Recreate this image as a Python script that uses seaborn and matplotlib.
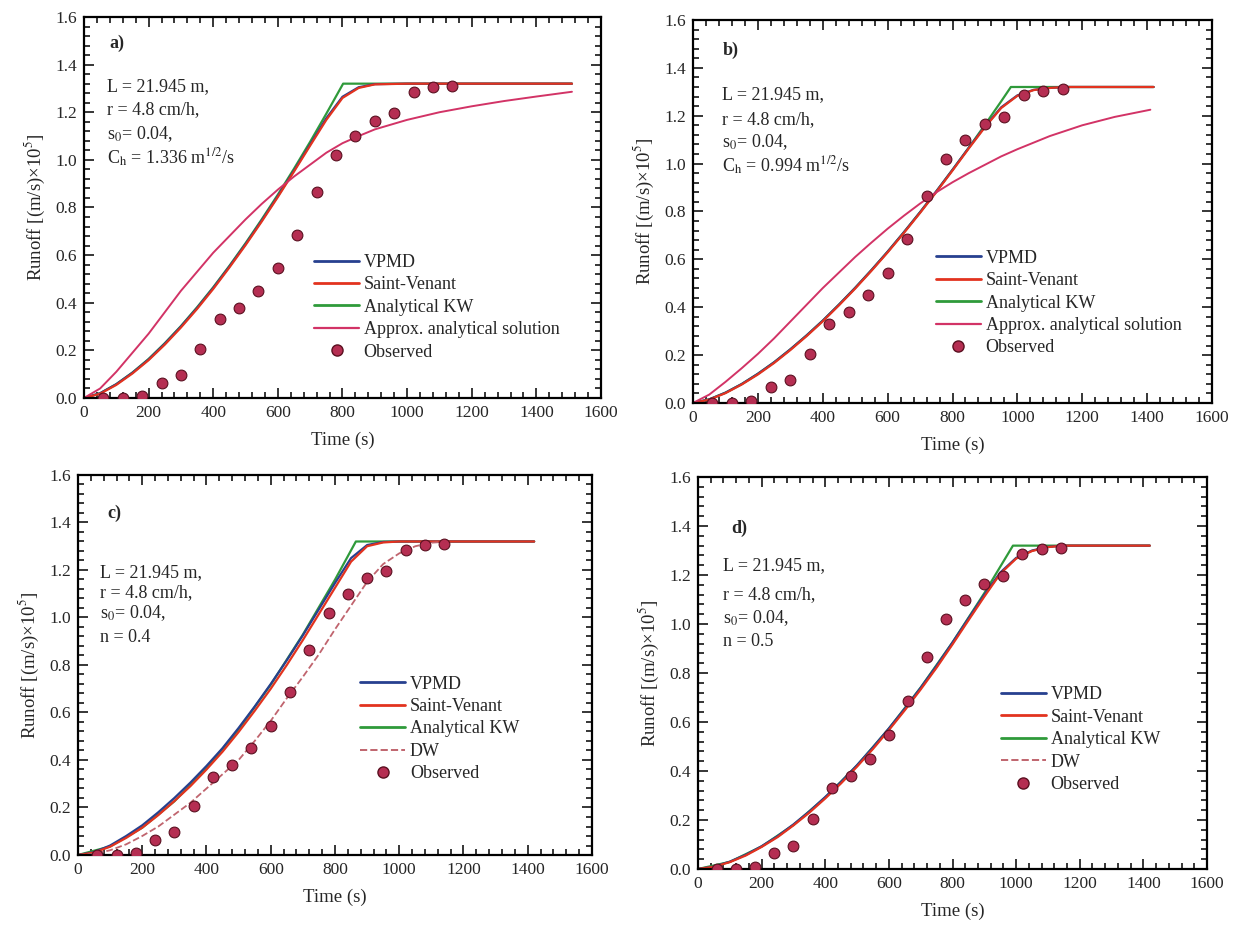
import numpy as np
import pandas as pd
import matplotlib
matplotlib.use("Agg")
import matplotlib.pyplot as plt
import seaborn as sns
from matplotlib.ticker import MultipleLocator
from matplotlib.lines import Line2D

# ---------------- data ----------------
OBS_T = [60, 120, 180, 240, 300, 360, 420, 480, 540, 600, 660, 720, 780, 840, 900, 960, 1020, 1080, 1140]
OBS_Q = [0.0, 0.0, 0.01, 0.065, 0.095, 0.205, 0.33, 0.38, 0.45, 0.545, 0.685, 0.865, 1.02, 1.10, 1.165, 1.195, 1.285, 1.305, 1.31]

# panel a
T_A = [0, 50, 100, 150, 200, 250, 300, 350, 400, 450, 500, 550, 600, 650, 700, 750, 800, 850, 900, 1000, 1200, 1510]
VPMD_A = [0, 0.02, 0.058, 0.106, 0.162, 0.228, 0.30, 0.378, 0.462, 0.552, 0.646, 0.745, 0.848, 0.955, 1.065, 1.175, 1.265, 1.305, 1.318, 1.32, 1.32, 1.32]
SV_A = [0, 0.018, 0.055, 0.103, 0.159, 0.224, 0.296, 0.374, 0.458, 0.548, 0.642, 0.741, 0.844, 0.951, 1.06, 1.168, 1.26, 1.302, 1.317, 1.32, 1.32, 1.32]
KW_TA = [0, 50, 100, 150, 200, 250, 300, 350, 400, 450, 500, 550, 600, 650, 700, 750, 802, 1510]
KW_A = [0, 0.02, 0.058, 0.107, 0.164, 0.230, 0.302, 0.381, 0.465, 0.555, 0.650, 0.750, 0.854, 0.963, 1.076, 1.194, 1.32, 1.32]
AP_TA = [0, 50, 100, 150, 200, 250, 300, 350, 400, 450, 500, 550, 600, 650, 700, 750, 800, 850, 900, 1000, 1100, 1200, 1300, 1400, 1510]
AP_A = [0, 0.04, 0.11, 0.19, 0.27, 0.36, 0.45, 0.53, 0.61, 0.68, 0.75, 0.815, 0.875, 0.93, 0.98, 1.03, 1.07, 1.10, 1.128, 1.168, 1.20, 1.225, 1.247, 1.266, 1.286]

# panel b
T_B = [0, 50, 100, 150, 200, 250, 300, 350, 400, 450, 500, 550, 600, 650, 700, 750, 800, 850, 900, 950, 1000, 1050, 1100, 1150, 1420]
VPMD_B = [0, 0.015, 0.043, 0.079, 0.122, 0.170, 0.224, 0.282, 0.344, 0.411, 0.481, 0.555, 0.632, 0.713, 0.797, 0.884, 0.974, 1.066, 1.155, 1.235, 1.285, 1.308, 1.316, 1.32, 1.32]
SV_B = [0, 0.014, 0.041, 0.077, 0.119, 0.167, 0.221, 0.279, 0.341, 0.408, 0.478, 0.552, 0.629, 0.71, 0.794, 0.881, 0.971, 1.063, 1.152, 1.232, 1.283, 1.307, 1.316, 1.32, 1.32]
KW_TB = [0, 50, 100, 150, 200, 250, 300, 350, 400, 450, 500, 550, 600, 650, 700, 750, 800, 850, 900, 950, 980, 1420]
KW_B = [0, 0.015, 0.043, 0.079, 0.122, 0.170, 0.224, 0.282, 0.344, 0.411, 0.481, 0.555, 0.632, 0.713, 0.797, 0.884, 0.974, 1.066, 1.162, 1.26, 1.32, 1.32]
AP_TB = [0, 50, 100, 150, 200, 250, 300, 350, 400, 450, 500, 550, 600, 650, 700, 750, 800, 850, 900, 950, 1000, 1100, 1200, 1300, 1410]
AP_B = [0, 0.035, 0.088, 0.145, 0.205, 0.27, 0.34, 0.41, 0.48, 0.545, 0.61, 0.67, 0.728, 0.782, 0.833, 0.88, 0.922, 0.96, 0.995, 1.03, 1.06, 1.115, 1.16, 1.195, 1.225]

# panel c
T_C = [0, 50, 100, 150, 200, 250, 300, 350, 400, 450, 500, 550, 600, 650, 700, 750, 800, 850, 900, 950, 1000, 1100, 1420]
VPMD_C = [0, 0.012, 0.04, 0.08, 0.125, 0.18, 0.24, 0.305, 0.375, 0.45, 0.535, 0.625, 0.72, 0.82, 0.925, 1.035, 1.145, 1.25, 1.305, 1.318, 1.32, 1.32, 1.32]
SV_C = [0, 0.01, 0.035, 0.072, 0.115, 0.168, 0.227, 0.29, 0.36, 0.435, 0.518, 0.607, 0.70, 0.80, 0.905, 1.015, 1.125, 1.235, 1.30, 1.316, 1.32, 1.32, 1.32]
KW_TC = [0, 100, 200, 300, 400, 500, 600, 700, 800, 865, 1420]
KW_C = [0, 0.036, 0.115, 0.226, 0.365, 0.529, 0.717, 0.928, 1.159, 1.32, 1.32]
DW_TC = [0, 50, 100, 150, 200, 250, 300, 350, 400, 450, 500, 550, 600, 650, 700, 750, 800, 850, 900, 950, 1000, 1050, 1100, 1160]
DW_C = [0, 0.005, 0.02, 0.045, 0.08, 0.12, 0.17, 0.22, 0.28, 0.34, 0.40, 0.48, 0.565, 0.66, 0.75, 0.845, 0.95, 1.05, 1.15, 1.225, 1.27, 1.30, 1.315, 1.32]

# panel d
T_D = [0, 50, 100, 150, 200, 250, 300, 350, 400, 450, 500, 550, 600, 650, 700, 750, 800, 850, 900, 950, 1000, 1050, 1100, 1150, 1420]
VPMD_D = [0, 0.01, 0.03, 0.058, 0.093, 0.134, 0.182, 0.235, 0.294, 0.356, 0.424, 0.497, 0.574, 0.655, 0.74, 0.83, 0.925, 1.023, 1.12, 1.21, 1.27, 1.30, 1.315, 1.32, 1.32]
SV_D = [0, 0.009, 0.028, 0.055, 0.09, 0.13, 0.178, 0.23, 0.288, 0.35, 0.418, 0.49, 0.567, 0.648, 0.733, 0.822, 0.917, 1.015, 1.112, 1.205, 1.267, 1.298, 1.314, 1.32, 1.32]
KW_TD = [0, 100, 200, 300, 400, 500, 600, 700, 800, 900, 990, 1420]
KW_D = [0, 0.029, 0.092, 0.180, 0.292, 0.423, 0.573, 0.741, 0.925, 1.126, 1.32, 1.32]
DW_TD = [0, 50, 100, 150, 200, 250, 300, 350, 400, 450, 500, 550, 600, 650, 700, 750, 800, 850, 900, 950, 1000, 1050, 1100, 1160]
DW_D = [0, 0.009, 0.029, 0.056, 0.091, 0.131, 0.179, 0.232, 0.29, 0.352, 0.42, 0.492, 0.569, 0.65, 0.735, 0.824, 0.919, 1.017, 1.114, 1.206, 1.268, 1.299, 1.314, 1.32]

PARAMS_A = ["L = 21.945 m,", "r = 4.8 cm/h,", "s$_0$= 0.04,", "C$_\\mathrm{h}$ = 1.336 m$^{1/2}$/s"]
PARAMS_B = ["L = 21.945 m,", "r = 4.8 cm/h,", "s$_0$= 0.04,", "C$_\\mathrm{h}$ = 0.994 m$^{1/2}$/s"]
PARAMS_C = ["L = 21.945 m,", "r = 4.8 cm/h,", "s$_0$= 0.04,", "n = 0.4"]
PARAMS_D = ["L = 21.945 m,", "r = 4.8 cm/h,", "s$_0$= 0.04,", "n = 0.5"]

LABELS_AB = ["VPMD", "Saint-Venant", "Analytical KW", "Approx. analytical solution", "Observed"]
LABELS_CD = ["VPMD", "Saint-Venant", "Analytical KW", "DW", "Observed"]

# ---------------- style ----------------
sns.set_theme(style="ticks")
plt.rcParams["font.family"] = ["Liberation Serif", "DejaVu Serif"]
plt.rcParams["mathtext.fontset"] = "stix"
plt.rcParams["axes.linewidth"] = 1.6

C_VPMD = "#27408f"
C_SV = "#e2331f"
C_KW = "#2f9a3a"
C_AP = "#d23366"
C_DW = "#c0646e"
C_OBS = "#b52e52"

fig = plt.figure(figsize=(12.4, 9.33), dpi=100)
fig.patch.set_facecolor("white")

positions = {
    "a": [0.0677, 0.5734, 0.4170, 0.4084],
    "b": [0.5589, 0.5681, 0.4185, 0.4105],
    "c": [0.0629, 0.0836, 0.4145, 0.4073],
    "d": [0.5629, 0.0686, 0.4105, 0.4201],
}


def line(ax, t, q, color, ls="-", lw=1.6):
    df = pd.DataFrame({"t": t, "q": q})
    sns.lineplot(data=df, x="t", y="q", ax=ax, color=color,
                 linestyle=ls, linewidth=lw, estimator=None, sort=False)


def setup(ax):
    ax.set_xlim(0, 1600)
    ax.set_ylim(0, 1.6)
    ax.xaxis.set_minor_locator(MultipleLocator(40))
    ax.yaxis.set_minor_locator(MultipleLocator(0.04))
    ax.tick_params(which="both", direction="in", top=True, right=True, width=1.3)
    ax.tick_params(which="major", length=7, labelsize=12.5, pad=5)
    ax.tick_params(which="minor", length=4)
    ax.set_xticks(range(0, 1601, 200))
    ax.set_xticklabels([str(v) for v in range(0, 1601, 200)])
    ax.set_yticks([i * 0.2 for i in range(9)])
    ax.set_yticklabels(["%.1f" % (i * 0.2) for i in range(9)])
    ax.set_xlabel("Time (s)", fontsize=13.5, labelpad=8)
    ax.set_ylabel("Runoff [(m/s)\u00d710$^5$]", fontsize=13.5, labelpad=6)
    for s in ax.spines.values():
        s.set_linewidth(1.6)
        s.set_color("black")


def params(ax, x, ys, lines):
    for y, txt in zip(ys, lines):
        ax.text(x, y, txt, fontsize=13, va="center", ha="left")


def obs(ax):
    df = pd.DataFrame({"t": OBS_T, "q": OBS_Q})
    sns.scatterplot(data=df, x="t", y="q", ax=ax, color=C_OBS, s=60,
                    edgecolor="#5a1020", linewidth=0.8, zorder=5, legend=False)


def legend(ax, handles, labels, anchor):
    ax.legend(handles, labels, loc="upper left", bbox_to_anchor=anchor, frameon=False,
              fontsize=13, handlelength=2.5, handletextpad=0.25, labelspacing=0.30,
              borderpad=0, borderaxespad=0)


obs_handle = Line2D([], [], ls="", marker="o", ms=8, color=C_OBS, mec="#5a1020")
h1 = [Line2D([], [], color=C_VPMD, lw=2), Line2D([], [], color=C_SV, lw=2),
      Line2D([], [], color=C_KW, lw=2), Line2D([], [], color=C_AP, lw=1.6), obs_handle]
h2 = [Line2D([], [], color=C_VPMD, lw=2), Line2D([], [], color=C_SV, lw=2),
      Line2D([], [], color=C_KW, lw=2), Line2D([], [], color=C_DW, lw=1.4, ls="--"), obs_handle]

# panel a
ax = fig.add_axes(positions["a"])
line(ax, KW_TA, KW_A, C_KW)
line(ax, T_A, VPMD_A, C_VPMD)
line(ax, T_A, SV_A, C_SV)
line(ax, AP_TA, AP_A, C_AP, lw=1.4)
obs(ax)
setup(ax)
legend(ax, h1, LABELS_AB, (0.445, 0.378))
ax.text(80, 1.49, "a)", fontsize=13, fontweight="bold", va="center")
params(ax, 72, [1.307, 1.21, 1.107, 1.008], PARAMS_A)

# panel b
ax = fig.add_axes(positions["b"])
line(ax, KW_TB, KW_B, C_KW)
line(ax, T_B, VPMD_B, C_VPMD)
line(ax, T_B, SV_B, C_SV)
line(ax, AP_TB, AP_B, C_AP, lw=1.4)
obs(ax)
setup(ax)
legend(ax, h1, LABELS_AB, (0.468, 0.40))
ax.text(93, 1.475, "b)", fontsize=13, fontweight="bold", va="center")
params(ax, 90, [1.287, 1.185, 1.09, 0.99], PARAMS_B)

# panel c
ax = fig.add_axes(positions["c"])
line(ax, KW_TC, KW_C, C_KW)
line(ax, T_C, VPMD_C, C_VPMD)
line(ax, T_C, SV_C, C_SV)
line(ax, DW_TC, DW_C, C_DW, ls="--", lw=1.3)
obs(ax)
setup(ax)
legend(ax, h2, LABELS_CD, (0.549, 0.472))
ax.text(90, 1.44, "c)", fontsize=13, fontweight="bold", va="center")
params(ax, 68, [1.19, 1.105, 1.02, 0.915], PARAMS_C)

# panel d
ax = fig.add_axes(positions["d"])
line(ax, KW_TD, KW_D, C_KW)
line(ax, DW_TD, DW_D, C_DW, ls="--", lw=1.3)
line(ax, T_D, VPMD_D, C_VPMD)
line(ax, T_D, SV_D, C_SV)
obs(ax)
setup(ax)
legend(ax, h2, LABELS_CD, (0.595, 0.466))
ax.text(105, 1.39, "d)", fontsize=13, fontweight="bold", va="center")
params(ax, 78, [1.237, 1.12, 1.025, 0.93], PARAMS_D)

fig.savefig("out.png", dpi=100, facecolor="white")
